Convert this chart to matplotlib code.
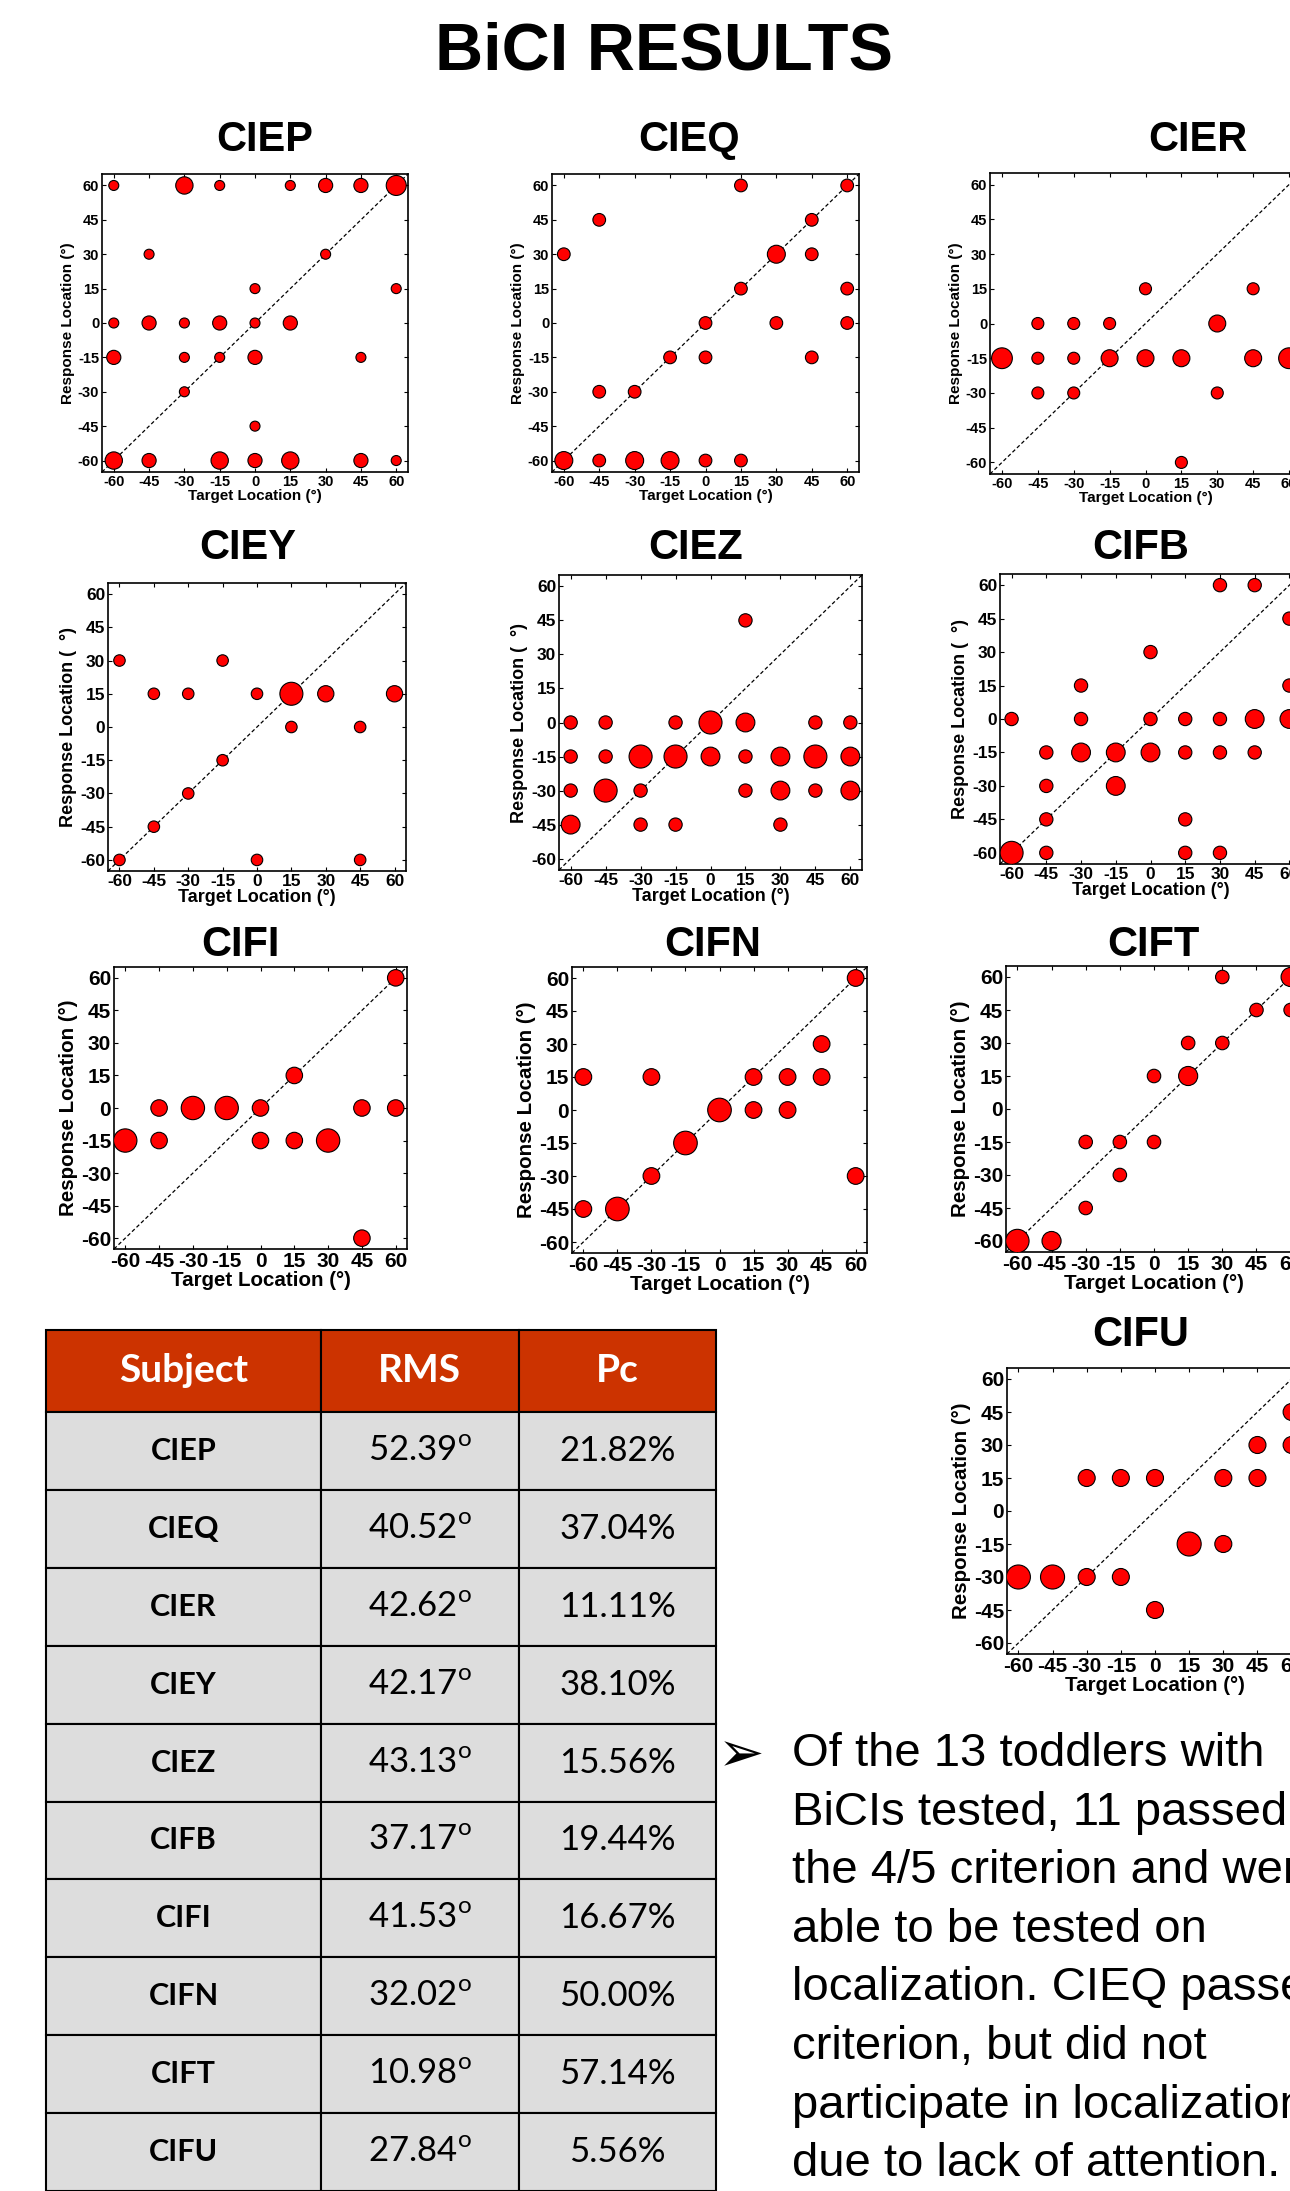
import matplotlib
matplotlib.use("Agg")
import matplotlib.pyplot as plt
from matplotlib.patches import Rectangle

W, H, DPI = 1290, 2191, 100

# ---------------- data: target / response / number of trials ----------------
ciep_target   = [-60, -30, -15, 15, 30, 45, 60, -45, 30, 0, 60, -60, -45, -30, -15, 0, 15,
                 -60, -30, -15, 0, 45, -30, 0, -60, -45, -15, 0, 15, 45, 60]
ciep_response = [60, 60, 60, 60, 60, 60, 60, 30, 30, 15, 15, 0, 0, 0, 0, 0, 0,
                 -15, -15, -15, -15, -15, -30, -45, -60, -60, -60, -60, -60, -60, -60]
ciep_count    = [1, 3, 1, 1, 2, 2, 4, 1, 1, 1, 1, 1, 2, 1, 2, 1, 2,
                 2, 1, 1, 2, 1, 1, 1, 3, 2, 3, 2, 3, 2, 1]

cieq_target   = [15, 60, -45, 45, -60, 30, 45, 15, 60, 0, 30, 60, -15, 0, 45, -45, -30,
                 -60, -45, -30, -15, 0, 15]
cieq_response = [60, 60, 45, 45, 30, 30, 30, 15, 15, 0, 0, 0, -15, -15, -15, -30, -30,
                 -60, -60, -60, -60, -60, -60]
cieq_count    = [1, 1, 1, 1, 1, 2, 1, 1, 1, 1, 1, 1, 1, 1, 1, 1, 1, 2, 1, 2, 2, 1, 1]

cier_target   = [0, 45, -45, -30, -15, 30, -60, -45, -30, -15, 0, 15, 45, 60, -45, -30, 30, 15]
cier_response = [15, 15, 0, 0, 0, 0, -15, -15, -15, -15, -15, -15, -15, -15, -30, -30, -30, -60]
cier_count    = [1, 1, 1, 1, 1, 2, 3, 1, 1, 2, 2, 2, 2, 3, 1, 1, 1, 1]

ciey_target   = [-60, -15, -45, -30, 0, 15, 30, 60, 15, 45, -15, -30, -45, -60, 0, 45]
ciey_response = [30, 30, 15, 15, 15, 15, 15, 15, 0, 0, -15, -30, -45, -60, -60, -60]
ciey_count    = [1, 1, 1, 1, 1, 4, 2, 2, 1, 1, 1, 1, 1, 1, 1, 1]

ciez_target   = [15, -60, -45, -15, 0, 15, 45, 60, -60, -45, -30, -15, 0, 15, 30, 45, 60,
                 -60, -45, -30, 15, 30, 45, 60, -60, -30, -15, 30]
ciez_response = [45, 0, 0, 0, 0, 0, 0, 0, -15, -15, -15, -15, -15, -15, -15, -15, -15,
                 -30, -30, -30, -30, -30, -30, -30, -45, -45, -45, -45]
ciez_count    = [1, 1, 1, 1, 3, 2, 1, 1, 1, 1, 3, 3, 2, 1, 2, 3, 2,
                 1, 3, 1, 1, 2, 1, 2, 2, 1, 1, 1]

cifb_target   = [30, 45, 60, 0, -30, 60, -60, -30, 0, 15, 30, 45, 60, -45, -30, -15, 0, 15, 30, 45,
                 -45, -15, -45, 15, -60, -45, 15, 30]
cifb_response = [60, 60, 45, 30, 15, 15, 0, 0, 0, 0, 0, 0, 0, -15, -15, -15, -15, -15, -15, -15,
                 -30, -30, -45, -45, -60, -60, -60, -60]
cifb_count    = [1, 1, 1, 1, 1, 1, 1, 1, 1, 1, 1, 2, 2, 1, 2, 2, 2, 1, 1, 1,
                 1, 2, 1, 1, 3, 1, 1, 1]

cifi_target   = [60, 15, -45, -30, -15, 0, 45, 60, -60, -45, 0, 15, 30, 45]
cifi_response = [60, 15, 0, 0, 0, 0, 0, 0, -15, -15, -15, -15, -15, -60]
cifi_count    = [1, 1, 1, 2, 2, 1, 1, 1, 2, 1, 1, 1, 2, 1]

cifn_target   = [60, 45, -60, -30, 15, 30, 45, 0, 15, 30, -15, -30, 60, -60, -45]
cifn_response = [60, 30, 15, 15, 15, 15, 15, 0, 0, 0, -15, -30, -30, -45, -45]
cifn_count    = [1, 1, 1, 1, 1, 1, 1, 2, 1, 1, 2, 1, 1, 1, 2]

cift_target   = [30, 60, 45, 60, 15, 30, 0, 15, -30, -15, 0, -15, -30, -60, -45]
cift_response = [60, 60, 45, 45, 30, 30, 15, 15, -15, -15, -15, -30, -45, -60, -60]
cift_count    = [1, 2, 1, 1, 1, 1, 1, 2, 1, 1, 1, 1, 1, 3, 2]

cifu_target   = [60, 45, 60, -30, -15, 0, 30, 45, 15, 30, -60, -45, -30, -15, 0]
cifu_response = [45, 30, 30, 15, 15, 15, 15, 15, -15, -15, -30, -30, -30, -30, -45]
cifu_count    = [1, 1, 1, 1, 1, 1, 1, 1, 2, 1, 2, 2, 1, 1, 1]

locations = [-60, -45, -30, -15, 0, 15, 30, 45, 60]

# table
subjects = ["CIEP", "CIEQ", "CIER", "CIEY", "CIEZ", "CIFB", "CIFI", "CIFN", "CIFT", "CIFU"]
rms_deg  = [52.39, 40.52, 42.62, 42.17, 43.13, 37.17, 41.53, 32.02, 10.98, 27.84]
pc_pct   = [21.82, 37.04, 11.11, 38.10, 15.56, 19.44, 16.67, 50.00, 57.14, 5.56]
table_header = ["Subject", "RMS", "Pc"]

note_lines = ["Of the 13 toddlers with",
              "BiCIs tested, 11 passed",
              "the 4/5 criterion and were",
              "able to be tested on",
              "localization. CIEQ passed",
              "criterion, but did not",
              "participate in localization",
              "due to lack of attention."]

# ---------------- style ----------------
plt.rcParams['font.family'] = ['Liberation Sans', 'DejaVu Sans']
plt.rcParams['axes.unicode_minus'] = False

fig = plt.figure(figsize=(W / DPI, H / DPI), dpi=DPI)


def px_axes(left, top, right, bottom):
    return fig.add_axes([left / W, 1 - bottom / H, (right - left) / W, (bottom - top) / H])


def draw_panel(name, target, response, count, box, base_px, title_xy, tick_fs, label_fs, ylabel):
    ax = px_axes(*box)
    ax.plot([-65, 65], [-65, 65], color="black", lw=0.9, ls=(0, (3, 2)), zorder=1)
    d_pt = base_px * 72 / DPI
    ax.scatter(target, response, s=[d_pt ** 2 * c for c in count], c="#FF0000",
               edgecolors="black", linewidths=0.8, zorder=3)
    ax.set_xlim(-65, 65)
    ax.set_ylim(-65, 65)
    ax.set_xticks(locations)
    ax.set_yticks(locations)
    ax.tick_params(direction="in", top=True, right=True, length=3, width=0.8,
                   labelsize=tick_fs, pad=2)
    for lbl in ax.get_xticklabels() + ax.get_yticklabels():
        lbl.set_fontweight("bold")
    for sp in ax.spines.values():
        sp.set_linewidth(1.2)
    ax.set_xlabel("Target Location (°)", fontsize=label_fs, fontweight="bold", labelpad=0)
    ax.set_ylabel(ylabel, fontsize=label_fs, fontweight="bold", labelpad=2)
    fig.text(title_xy[0] / W, 1 - title_xy[1] / H, name, ha="center", va="center",
             fontsize=30, fontweight="bold")


yl = "Response Location (°)"
yl2 = "Response Location (  °)"
draw_panel("CIEP", ciep_target, ciep_response, ciep_count, (102, 174, 408, 472), 10.0, (265, 140), 10.5, 11, yl)
draw_panel("CIEQ", cieq_target, cieq_response, cieq_count, (552, 174, 859, 472), 12.7, (689, 140), 10.5, 11, yl)
draw_panel("CIER", cier_target, cier_response, cier_count, (990, 173, 1301, 474), 12.0, (1198, 140), 10.5, 11, yl)
draw_panel("CIEY", ciey_target, ciey_response, ciey_count, (108, 583, 406, 871), 11.5, (248, 548), 12.5, 13, yl2)
draw_panel("CIEZ", ciez_target, ciez_response, ciez_count, (559, 575, 862, 870), 13.3, (696, 548), 12.5, 13, yl2)
draw_panel("CIFB", cifb_target, cifb_response, cifb_count, (1000, 574, 1301, 864), 13.3, (1141, 548), 12.5, 13, yl2)
draw_panel("CIFI", cifi_target, cifi_response, cifi_count, (114, 967, 407, 1249), 16.5, (240, 945), 15, 14.8, yl)
draw_panel("CIFN", cifn_target, cifn_response, cifn_count, (572, 967, 867, 1253), 16.7, (713, 945), 15, 14.8, yl)
draw_panel("CIFT", cift_target, cift_response, cift_count, (1006, 966, 1302, 1252), 13.5, (1153, 945), 15, 14.8, yl)
draw_panel("CIFU", cifu_target, cifu_response, cifu_count, (1007, 1368, 1303, 1654), 17.0, (1141, 1335), 15, 14.8, yl)

fig.text(664 / W, 1 - 53 / H, "BiCI RESULTS", ha="center", va="center", fontsize=48, fontweight="bold")

# ---------------- table ----------------
tab_left, tab_top, tab_right = 46, 1330, 716
col_edges = [0, 275, 472.5, 670]
head_h, row_h = 82, 77.9
tab_h = head_h + row_h * len(subjects)
tax = px_axes(tab_left, tab_top, tab_right, tab_top + tab_h)
tax.set_xlim(0, col_edges[-1])
tax.set_ylim(tab_h, 0)
tax.axis("off")
tab_font = ["Lato", "DejaVu Sans"]

for j, hdr in enumerate(table_header):
    x0, x1 = col_edges[j], col_edges[j + 1]
    tax.add_patch(Rectangle((x0, 0), x1 - x0, head_h, facecolor="#CC3300", edgecolor="black",
                            lw=1.5, clip_on=False))
    tax.text((x0 + x1) / 2, head_h / 2, hdr, ha="center", va="center", color="white",
             fontsize=28, fontweight="bold", family=tab_font)

for i, subj in enumerate(subjects):
    y0 = head_h + i * row_h
    cells = [subj, "%.2f$^{\\mathregular{o}}$" % rms_deg[i], "%.2f%%" % pc_pct[i]]
    for j, txt in enumerate(cells):
        x0, x1 = col_edges[j], col_edges[j + 1]
        tax.add_patch(Rectangle((x0, y0), x1 - x0, row_h, facecolor="#DDDDDD", edgecolor="black",
                                lw=1.5, clip_on=False))
        tax.text((x0 + x1) / 2, y0 + row_h / 2, txt, ha="center", va="center", color="black",
                 fontsize=22 if j == 0 else 25, fontweight="bold" if j == 0 else "normal",
                 family=tab_font)

# ---------------- note ----------------
fig.text(718 / W, 1 - 1756 / H, "➢", ha="left", va="center", fontsize=40, family=["DejaVu Sans"])
for k, line in enumerate(note_lines):
    fig.text(792 / W, 1 - (1754 + k * 58.6) / H, line, ha="left", va="center", fontsize=34)

fig.savefig("out.png", dpi=DPI)
